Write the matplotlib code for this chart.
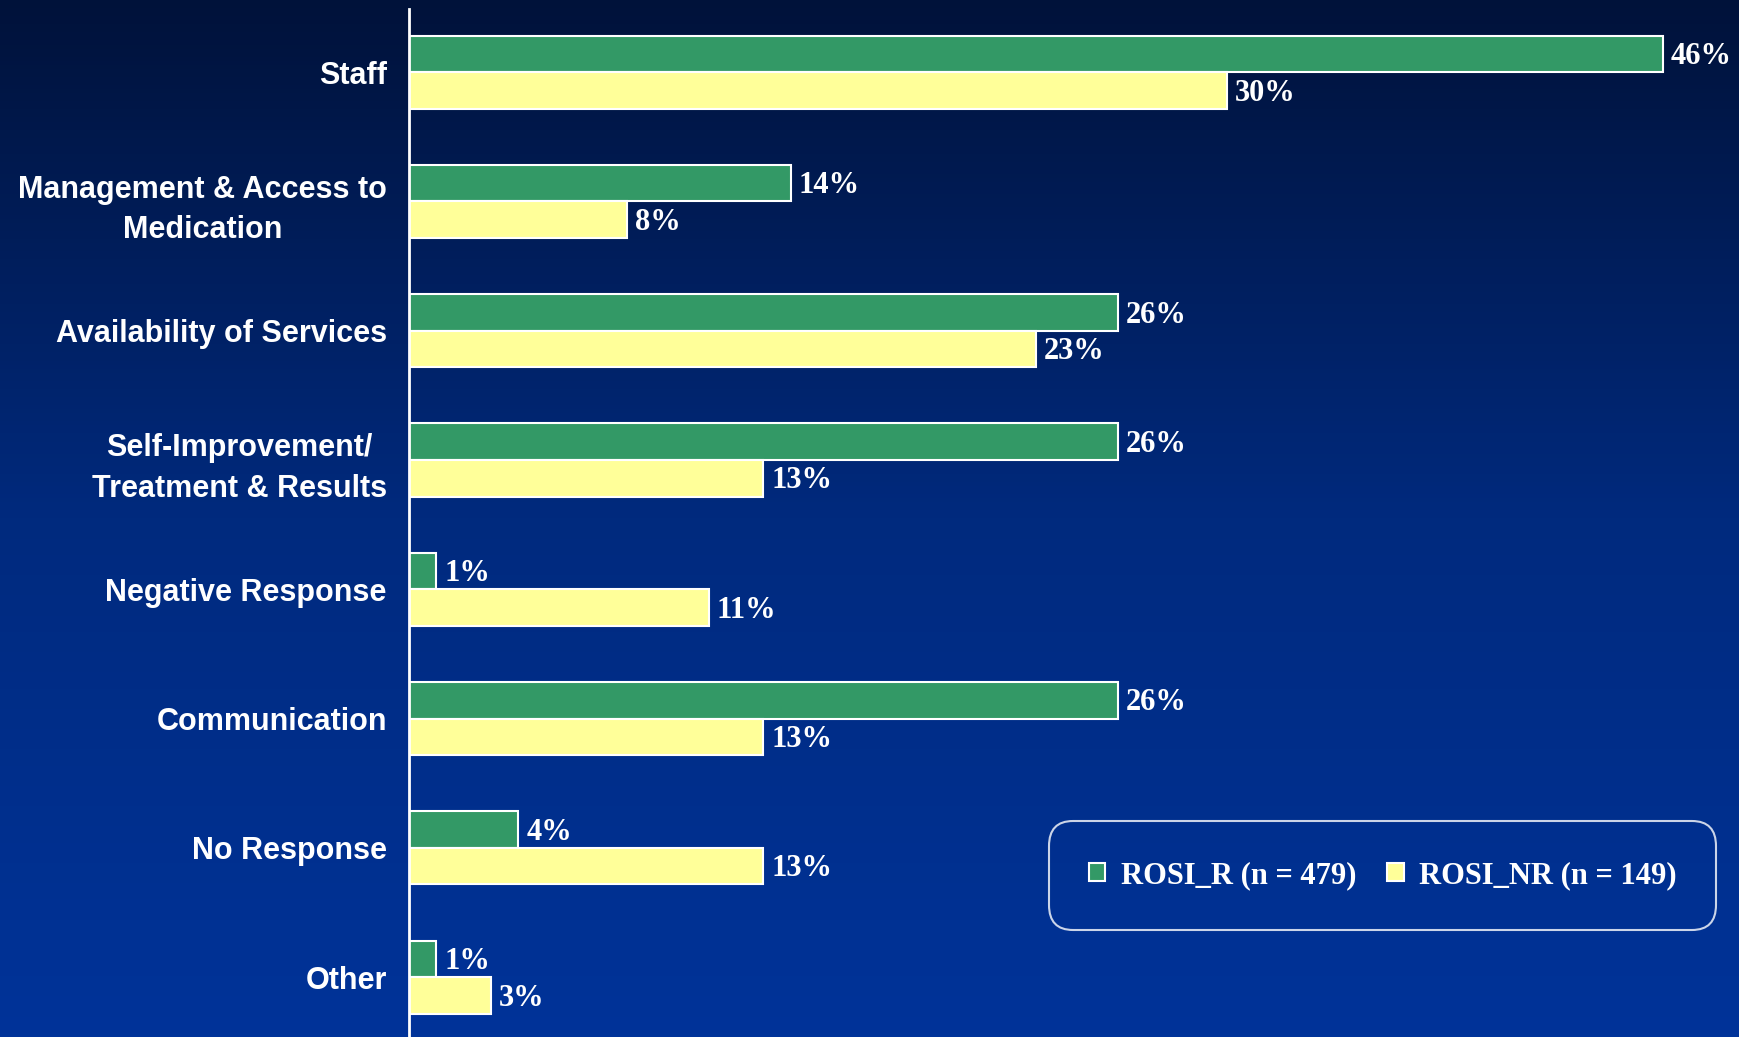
import numpy as np
import matplotlib.pyplot as plt
from matplotlib import font_manager
from matplotlib.colors import LinearSegmentedColormap

categories = ["Staff", "Management & Access to\nMedication", "Availability of Services",
              "Self-Improvement/\nTreatment & Results", "Negative Response",
              "Communication", "No Response", "Other"]
rosi_r = [46, 14, 26, 26, 1, 26, 4, 1]
rosi_nr = [30, 8, 23, 13, 11, 13, 13, 3]
series_names = ["ROSI_R (n = 479)", "ROSI_NR (n = 149)"]

green = "#339966"
yellow = "#ffff99"

# narrow font for the category labels if there is one
try:
    font_manager.findfont(font_manager.FontProperties(family="Liberation Sans Narrow", weight="bold"),
                          fallback_to_default=False)
    label_font, label_size = "Liberation Sans Narrow", 25
except ValueError:
    label_font, label_size = "Liberation Sans", 22

fig = plt.figure(figsize=(17.39, 10.37), dpi=100)

# background gradient
bg = fig.add_axes([0, 0, 1, 1])
grad = np.linspace(0, 1, 256).reshape(-1, 1)
cmap = LinearSegmentedColormap.from_list("bg", ["#00123a", "#002a7e", "#003399"])
bg.imshow(grad, aspect="auto", cmap=cmap, extent=[0, 1, 0, 1], origin="upper")
bg.axis("off")

ax = fig.add_axes([0.2352, 0.0, 1 - 0.2352, 1 - 0.0086])
ax.set_facecolor("none")

y = np.arange(len(categories))
h = 0.283
ax.barh(y - h / 2, rosi_r, height=h, color=green, edgecolor="white", linewidth=1.5,
        label=series_names[0])
ax.barh(y + h / 2, rosi_nr, height=h, color=yellow, edgecolor="white", linewidth=1.5,
        label=series_names[1])

for i in range(len(categories)):
    ax.text(rosi_r[i] + 0.3, y[i] - h / 2 + 0.02, f"{rosi_r[i]}%", color="white",
            fontsize=22, fontweight="bold", family="Liberation Serif", va="center", ha="left")
    ax.text(rosi_nr[i] + 0.3, y[i] + h / 2 + 0.02, f"{rosi_nr[i]}%", color="white",
            fontsize=22, fontweight="bold", family="Liberation Serif", va="center", ha="left")

ax.set_xlim(0, 48.8)
ax.set_ylim(7.463, -0.489)
ax.set_xticks([])
ax.set_yticks(y)
ax.set_yticklabels(categories, color="white", fontsize=label_size, fontweight="bold",
                   family=label_font, multialignment="center", linespacing=1.45)
ax.tick_params(axis="y", length=0, pad=16)
for s in ["top", "right", "bottom"]:
    ax.spines[s].set_visible(False)
ax.spines["left"].set_color("white")
ax.spines["left"].set_linewidth(2)

leg = ax.legend(ncol=2, loc="center", bbox_to_anchor=(0.732, 0.157),
                frameon=True, facecolor="none", edgecolor="white",
                handlelength=0.55, handleheight=0.55, handletextpad=0.5,
                columnspacing=1.0, borderpad=1.0,
                prop={"family": "Liberation Serif", "weight": "bold", "size": 22})
for t in leg.get_texts():
    t.set_color("white")
leg.get_frame().set_linewidth(1.5)
leg.get_frame().set_boxstyle("round", rounding_size=0.8)

fig.savefig("out.png", dpi=100)
